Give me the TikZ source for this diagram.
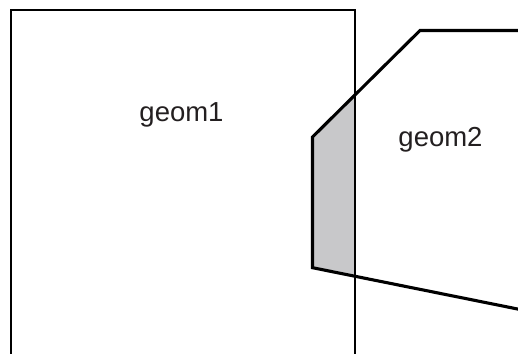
\documentclass[tikz,border=0pt]{standalone}
\usepackage{fontspec}
\setmainfont{Liberation Sans}
\definecolor{overlapgray}{HTML}{C8C8CA}
\definecolor{labelgray}{HTML}{231F20}
\begin{document}
\begin{tikzpicture}[x=1pt,y=-1pt,
  geomone/.style={draw=black,line width=2.3pt},
  geomtwo/.style={draw=black,line width=3.1pt},
  overlap/.style={fill=overlapgray},
  geomlabel/.style={anchor=base,inner sep=0pt,text=labelgray,font=\fontsize{27.5}{30}\selectfont}]
\useasboundingbox (0,0) rectangle (518,353);
\clip (0,0) rectangle (518,353);
% overlap region
\fill[overlap] (312.5,137) -- (355,95) -- (355,277) -- (312.5,267.7) -- cycle;
% geom1 rectangle
\draw[geomone] (11,365) -- (11,9.7) -- (355,9.7) -- (355,365);
% geom2 polygon
\draw[geomtwo] (530,30.5) -- (420,30.5) -- (312.5,137) -- (312.5,267.7) -- (530,311.5);
% labels
\node[geomlabel] (g1) at (181.5,121) {geom1};
\node[geomlabel] (g2) at (440.5,146) {geom2};
\end{tikzpicture}
\end{document}
